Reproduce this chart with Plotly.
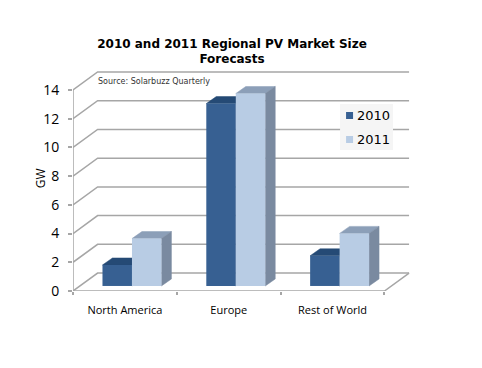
import plotly.graph_objects as go

categories = ["North America", "Europe", "Rest of World"]
series_names = ["2010", "2011"]
values_2010 = [1.46, 12.7, 2.1]
values_2011 = [3.3, 13.4, 3.66]
y_ticks = [0, 2, 4, 6, 8, 10, 12, 14]

C_FRONT = ["#376092", "#b8cce4"]
C_TOP = ["#254a75", "#8c9fb8"]
C_SIDE = ["#2a4a70", "#7a8aa0"]
GRID = "#a6a6a6"

# pseudo-3D geometry in axis units
WALL_DX, WALL_DY = 0.237, 1.25
BAR_DX, BAR_DY = 0.096, 0.49
BAR_W = 0.284
OFF_X, BASE = 0.068, 0.35
X0, X1 = -0.5, 2.5

fig = go.Figure()


def line(xs, ys):
    fig.add_trace(go.Scatter(x=xs, y=ys, mode="lines", line=dict(color=GRID, width=1.5),
                             showlegend=False, hoverinfo="skip"))


for t in y_ticks:
    line([X0, X0 + WALL_DX, X1 + WALL_DX], [t, t + WALL_DY, t + WALL_DY])
line([X0, X0], [0, 14])
line([X0, X1, X1 + WALL_DX], [0, 0, WALL_DY])


def poly(xs, ys, color):
    fig.add_trace(go.Scatter(x=xs, y=ys, mode="lines", fill="toself", fillcolor=color,
                             line=dict(color=color, width=0.5),
                             showlegend=False, hoverinfo="skip"))


for s, vals in enumerate([values_2010, values_2011]):
    for i, v in enumerate(vals):
        xa = i + OFF_X + (s - 1) * BAR_W
        xb = xa + BAR_W
        top = v + BASE
        poly([xa, xa + BAR_DX, xb + BAR_DX, xb, xa],
             [top, top + BAR_DY, top + BAR_DY, top, top], C_TOP[s])
        poly([xb, xb + BAR_DX, xb + BAR_DX, xb, xb],
             [top, top + BAR_DY, BASE + BAR_DY, BASE, top], C_SIDE[s])

for s, vals in enumerate([values_2010, values_2011]):
    fig.add_trace(go.Bar(
        x=[i + OFF_X + (s - 0.5) * BAR_W for i in range(len(categories))],
        y=vals, base=BASE, width=BAR_W, name=series_names[s],
        marker=dict(color=C_FRONT[s], line=dict(width=0)),
        xaxis="x2", yaxis="y2", hoverinfo="skip", showlegend=False))

x_range = [X0, 2.746]
y_range = [0, 15.32]

W, H = 482, 368
PL, PT, PW, PH = 72.7, 71, 337.3, 220


def paper_x(x):
    return (x - PL) / PW


def paper_y(y):
    return 1 - (y - PT) / PH


# legend drawn by hand to match the tight swatch/text spacing of the reference
shapes = [dict(type="rect", xref="paper", yref="paper", layer="above", line=dict(width=0),
               fillcolor="#f5f5f5", x0=paper_x(340), x1=paper_x(393),
               y0=paper_y(150), y1=paper_y(104))]
annotations = [
    dict(text="Source: Solarbuzz Quarterly", xref="paper", yref="paper",
         x=paper_x(95.5), y=paper_y(81.5), xanchor="left", yanchor="middle",
         showarrow=False, font=dict(family="DejaVu Sans", size=8, color="#333333")),
    dict(text="GW", xref="paper", yref="paper", x=paper_x(40), y=paper_y(178),
         xanchor="center", yanchor="middle", textangle=-90, showarrow=False,
         font=dict(family="Open Sans", size=12, color="black")),
]

for s, cy in enumerate([115.5, 139.5]):
    shapes.append(dict(type="rect", xref="paper", yref="paper", layer="above", line=dict(width=0),
                       fillcolor=C_FRONT[s], x0=paper_x(346), x1=paper_x(353),
                       y0=paper_y(cy + 3.5), y1=paper_y(cy - 3.5)))
    annotations.append(dict(text=series_names[s], xref="paper", yref="paper",
                            x=paper_x(356), y=paper_y(cy), xanchor="left", yanchor="middle",
                            showarrow=False, xshift=-1,
                            font=dict(family="DejaVu Sans", size=13, color="black")))

fig.update_layout(
    width=W, height=H, autosize=False, showlegend=False,
    margin=dict(l=PL, r=W - PL - PW, t=PT, b=H - PT - PH, pad=0),
    paper_bgcolor="white", plot_bgcolor="white",
    title=dict(text="<b>2010 and 2011 Regional PV Market Size<br>Forecasts</b>",
               x=232 / W, xanchor="center", y=1 - 47.5 / H, yanchor="middle",
               font=dict(family="DejaVu Sans", size=12, color="black")),
    xaxis=dict(range=x_range, showgrid=False, zeroline=False, showline=False,
               tickmode="array", tickvals=[0, 1, 2], ticktext=categories,
               ticks="outside", ticklen=9, tickcolor="rgba(0,0,0,0)",
               tickfont=dict(family="Open Sans", size=11, color="black"),
               minor=dict(tickmode="array", tickvals=[-0.5, 0.5, 1.5, 2.5],
                          ticks="outside", ticklen=3, tickcolor=GRID, tickwidth=1.5)),
    yaxis=dict(range=y_range, showgrid=False, zeroline=False, showline=False,
               tickmode="array", tickvals=y_ticks, ticks="outside", ticklen=4,
               tickcolor=GRID, tickwidth=1.5, ticklabelstandoff=6,
               tickfont=dict(family="Open Sans", size=14, color="black")),
    xaxis2=dict(range=x_range, overlaying="x", visible=False),
    yaxis2=dict(range=y_range, overlaying="y", visible=False),
    barmode="overlay",
    shapes=shapes,
    annotations=annotations,
)

fig.write_html("out.html", config={"displayModeBar": False},
               post_script="document.body.style.margin='0';")
